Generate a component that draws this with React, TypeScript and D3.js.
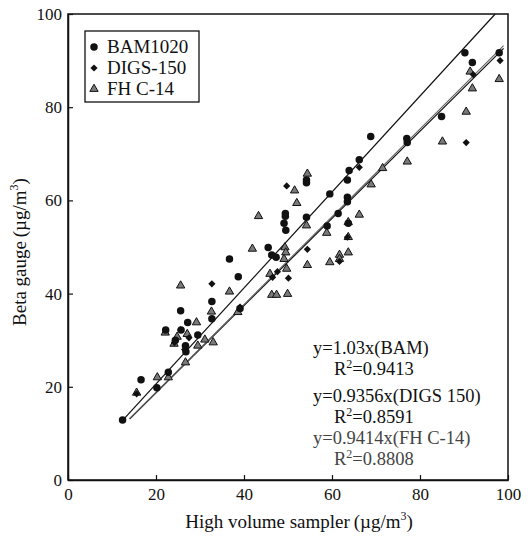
import React, { useEffect, useRef } from 'react';
import * as d3 from 'd3';

// values, [hvs, beta]
const bamPoints: [number, number][] = [
  [12.4, 12.9], [16.6, 21.5], [20.2, 19.8], [22.8, 23.1], [22.2, 32.2], [25.6, 36.3],
  [27.2, 33.8], [25.7, 32.2], [24.4, 30.0], [26.7, 28.8], [26.8, 27.5], [29.5, 31.1],
  [32.7, 38.3], [32.7, 34.6], [36.7, 47.4], [38.7, 43.6], [39.1, 36.8], [45.5, 49.9],
  [46.3, 48.3], [47.3, 47.8], [49.4, 57.2], [49.4, 56.6], [49.1, 55.1], [49.5, 53.6],
  [54.2, 64.4], [54.2, 63.8], [54.2, 56.4], [58.9, 54.5], [59.5, 61.4], [61.4, 57.2],
  [63.5, 60.7], [63.5, 59.7], [63.5, 64.4], [63.9, 66.4], [66.2, 68.7], [68.8, 73.7],
  [77.0, 73.3], [77.1, 72.4], [84.9, 78.0], [90.2, 91.7], [91.9, 89.6], [98.0, 91.7],
  [63.7, 55.1],
];

const digsPoints: [number, number][] = [
  [15.6, 18.5], [25.6, 32.2], [26.5, 28.0], [24.2, 29.5], [27.5, 30.5], [32.7, 42.1],
  [39.1, 37.1], [46.5, 43.5], [47.6, 44.7], [50.1, 43.3], [49.7, 63.1], [54.4, 49.5],
  [61.7, 46.9], [63.5, 52.1], [66.2, 67.1], [92.1, 87.0], [90.5, 72.4], [98.2, 90.0],
];

const fhPoints: [number, number][] = [
  [15.6, 18.5], [20.3, 21.8], [22.8, 21.8], [22.1, 31.4], [25.6, 41.5], [24.1, 29.0],
  [24.8, 30.5], [27.1, 31.1], [26.7, 25.0], [29.2, 33.6], [29.5, 28.6], [31.1, 29.9],
  [33.0, 29.3], [32.6, 35.9], [36.7, 40.2], [38.6, 35.8], [41.9, 49.4], [43.3, 56.4],
  [45.9, 44.0], [46.3, 39.5], [47.4, 39.5], [49.9, 39.7], [49.3, 49.7], [49.5, 48.6],
  [49.1, 47.2], [49.7, 45.1], [51.5, 61.9], [52.0, 59.2], [54.4, 65.5], [54.2, 54.4],
  [54.4, 45.9], [58.8, 52.8], [59.5, 46.5], [61.7, 48.1], [61.7, 47.2], [63.7, 51.9],
  [63.7, 48.6], [63.7, 55.1], [66.2, 56.7], [68.9, 63.2], [71.5, 66.7], [77.1, 68.1],
  [85.1, 72.4], [90.5, 78.8], [91.4, 87.4], [91.9, 83.8], [98.0, 85.8],
];

const seriesNames = ['BAM1020', 'DIGS-150', 'FH C-14'];
const fitSlopes = [1.03, 0.9356, 0.9414];
const fitStart = [12, 14, 14];
const fitEnd = [97.09, 99, 99];
const fitLabels = ['y=1.03x(BAM)', 'y=0.9356x(DIGS 150)', 'y=0.9414x(FH C-14)'];
const r2Values = ['0.9413', '0.8591', '0.8808'];
const ticks = [0, 20, 40, 60, 80, 100];

const W = 530;
const H = 549;
const FONT = '"Liberation Serif", "Times New Roman", serif';

const Chart = () => {
  const svgRef = useRef<SVGSVGElement>(null);

  useEffect(() => {
    const svg = d3.select(svgRef.current);
    svg.selectAll('*').remove();

    const x = d3.scaleLinear().domain([0, 100]).range([68, 508]);
    const y = d3.scaleLinear().domain([0, 100]).range([480, 14]);

    // frame
    svg
      .append('rect')
      .attr('x', x(0))
      .attr('y', y(100))
      .attr('width', x(100) - x(0))
      .attr('height', y(0) - y(100))
      .attr('fill', 'none')
      .attr('stroke', '#111')
      .attr('stroke-width', 1.5);

    const xAxis = svg
      .append('g')
      .attr('transform', `translate(0,${y(0)})`)
      .call(d3.axisBottom(x).tickValues(ticks).tickSizeInner(-5).tickSizeOuter(0).tickPadding(8));
    const yAxis = svg
      .append('g')
      .attr('transform', `translate(${x(0)},0)`)
      .call(d3.axisLeft(y).tickValues(ticks).tickSizeInner(-5).tickSizeOuter(0).tickPadding(6));
    [xAxis, yAxis].forEach((g) => {
      g.select('.domain').attr('stroke', '#111').attr('stroke-width', 1.5);
      g.selectAll('line').attr('stroke', '#111').attr('stroke-width', 1.2);
      g.selectAll('text').attr('font-family', FONT).attr('font-size', 17).attr('fill', '#111');
    });

    // fit lines
    const fitColors = ['#111', '#111', '#666'];
    fitSlopes.forEach((k, i) => {
      const line = d3
        .line<number>()
        .x((d) => x(d))
        .y((d) => y(k * d));
      svg
        .append('path')
        .datum([fitStart[i], fitEnd[i]])
        .attr('fill', 'none')
        .attr('stroke', fitColors[i])
        .attr('stroke-width', 1.2)
        .attr('d', line);
    });

    const circle = d3.symbol().type(d3.symbolCircle).size(44);
    const diamond = d3.symbol().type(d3.symbolSquare).size(26);
    const triangle = d3.symbol().type(d3.symbolTriangle).size(30);

    const drawFh = (g: any) =>
      g.attr('d', triangle()).attr('fill', '#7a7a7a').attr('stroke', '#111').attr('stroke-width', 1);
    const drawDigs = (g: any) => g.attr('d', diamond()).attr('fill', '#111');
    const drawBam = (g: any) => g.attr('d', circle()).attr('fill', '#111');

    svg
      .append('g')
      .selectAll('path')
      .data(fhPoints)
      .join('path')
      .attr('transform', (d) => `translate(${x(d[0])},${y(d[1]) - 1})`)
      .call(drawFh);
    svg
      .append('g')
      .selectAll('path')
      .data(digsPoints)
      .join('path')
      .attr('transform', (d) => `translate(${x(d[0])},${y(d[1])}) rotate(45)`)
      .call(drawDigs);
    svg
      .append('g')
      .selectAll('path')
      .data(bamPoints)
      .join('path')
      .attr('transform', (d) => `translate(${x(d[0])},${y(d[1])})`)
      .call(drawBam);

    // legend
    const legend = svg.append('g');
    legend
      .append('rect')
      .attr('x', 85)
      .attr('y', 31)
      .attr('width', 114)
      .attr('height', 71)
      .attr('fill', 'white')
      .attr('stroke', '#111')
      .attr('stroke-width', 1.3);
    const draws = [drawBam, drawDigs, drawFh];
    seriesNames.forEach((name, i) => {
      const cy = 47 + i * 21;
      legend
        .append('path')
        .attr('transform', `translate(94,${cy})${i === 1 ? ' rotate(45)' : ''}`)
        .call(draws[i]);
      legend
        .append('text')
        .attr('x', 107)
        .attr('y', cy + 6)
        .attr('font-family', FONT)
        .attr('font-size', 19)
        .attr('fill', '#111')
        .text(name);
    });

    // regression notes
    const noteBase = [354, 402, 444];
    const textColors = ['#111', '#111', '#444'];
    fitLabels.forEach((lab, i) => {
      svg
        .append('text')
        .attr('x', 313)
        .attr('y', noteBase[i])
        .attr('font-family', FONT)
        .attr('font-size', 18.5)
        .attr('fill', textColors[i])
        .text(lab);
      const r = svg
        .append('text')
        .attr('x', 334)
        .attr('y', noteBase[i] + 21)
        .attr('font-family', FONT)
        .attr('font-size', 18.5)
        .attr('fill', textColors[i]);
      r.append('tspan').text('R');
      r.append('tspan').attr('dy', -7).attr('font-size', 12).text('2');
      r.append('tspan').attr('dy', 7).text('=' + r2Values[i]);
    });

    // axis titles
    const xt = svg
      .append('text')
      .attr('x', 299)
      .attr('y', 528)
      .attr('text-anchor', 'middle')
      .attr('font-family', FONT)
      .attr('font-size', 19)
      .attr('fill', '#111');
    xt.append('tspan').text('High volume sampler\u2009(\u00b5g/m');
    xt.append('tspan').attr('dy', -8).attr('font-size', 12).text('3');
    xt.append('tspan').attr('dy', 8).text(')');

    const yt = svg
      .append('text')
      .attr('transform', `translate(26,252) rotate(-90)`)
      .attr('text-anchor', 'middle')
      .attr('font-family', FONT)
      .attr('font-size', 19)
      .attr('fill', '#111');
    yt.append('tspan').text('Beta gauge\u2009(\u00b5g/m');
    yt.append('tspan').attr('dy', -8).attr('font-size', 12).text('3');
    yt.append('tspan').attr('dy', 8).text(')');
  }, []);

  return <svg ref={svgRef} width={W} height={H} style={{ display: 'block', background: 'white' }} />;
};

export default function App() {
  return (
    <div style={{ margin: -8 }}>
      <Chart />
    </div>
  );
}
